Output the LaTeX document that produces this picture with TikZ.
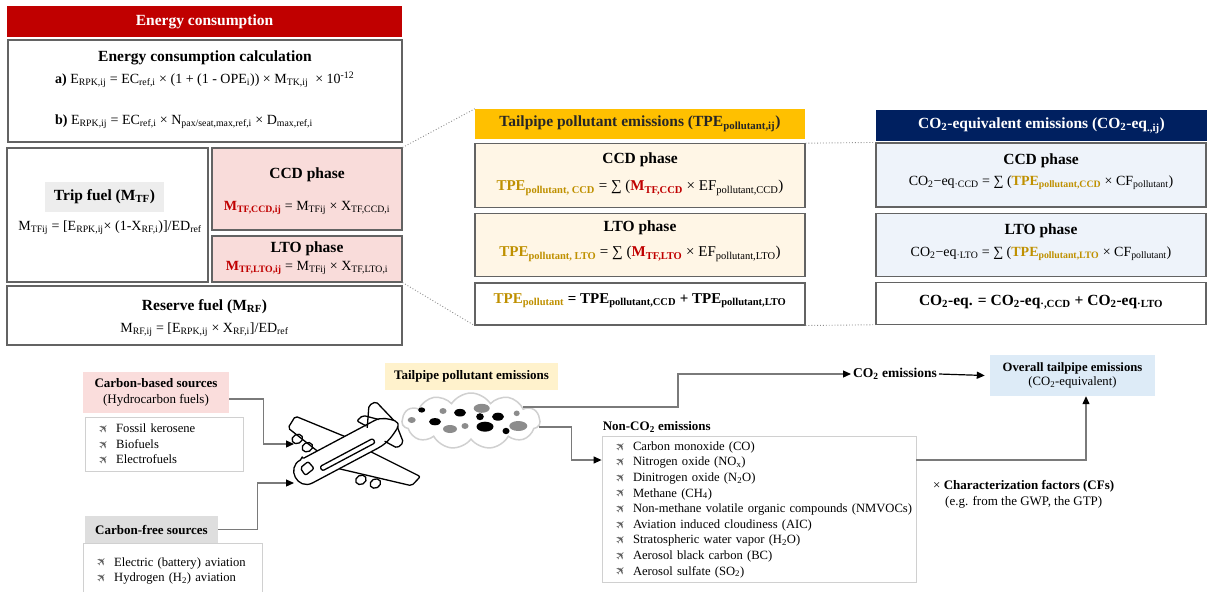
\documentclass[tikz,border=0pt]{standalone}
\usepackage{fontspec}
\setmainfont{Liberation Serif}
\newfontfamily\dejavu{DejaVu Sans}
\usepackage{graphicx}
\usetikzlibrary{positioning,arrows.meta,shapes.symbols}

\definecolor{ecred}{HTML}{C00000}
\definecolor{phasepink}{HTML}{F9DCDA}
\definecolor{tripgray}{HTML}{EDEDED}
\definecolor{tpeorange}{HTML}{FFC000}
\definecolor{tpecream}{HTML}{FFF6E6}
\definecolor{tpegold}{HTML}{BF9000}
\definecolor{ceqnavy}{HTML}{002060}
\definecolor{ceqblue}{HTML}{EEF3FA}
\definecolor{ovblue}{HTML}{DDEBF7}
\definecolor{tpelight}{HTML}{FFF2CC}
\definecolor{cbpink}{HTML}{FADDDC}
\definecolor{cfgray}{HTML}{DEDEDE}
\definecolor{linegray}{HTML}{636363}
\definecolor{listgray}{HTML}{D0D0D0}
\definecolor{flowgray}{HTML}{7A7A7A}
\definecolor{cloudgray}{HTML}{D0D0D0}
\definecolor{dotgray}{HTML}{8C8C8C}
\definecolor{bulgray}{HTML}{5E5E5E}

\newcommand\sbs[1]{\textsubscript{#1}}
\newcommand\gld[1]{\textcolor{tpegold}{\textbf{#1}}}
\newcommand\rdm[1]{\textcolor{ecred}{\textbf{#1}}}
\newcommand\bul{\makebox[31pt][l]{\hspace*{12pt}\textcolor{bulgray}{\dejavu\fontsize{12}{12}\selectfont\raisebox{-0.5pt}{\rotatebox[origin=c]{45}{✈}}}}}

\begin{document}
\begin{tikzpicture}[x=1pt, y=-1pt,
  box/.style={draw=linegray, line width=1.1pt, inner sep=0pt},
  hdr/.style={inner sep=0pt, font=\bfseries\fontsize{15.5}{18}\selectfont},
  ttl/.style={inner sep=0pt, font=\bfseries\fontsize{15.5}{18}\selectfont},
  fml/.style={inner sep=0pt, font=\fontsize{14}{17}\selectfont},
  lbl/.style={inner sep=0pt, font=\bfseries\fontsize{13}{16}\selectfont},
  lst/.style={draw=listgray, line width=0.8pt, align=left, inner sep=0pt,
              font=\fontsize{12.6}{15.6}\selectfont},
  flow/.style={draw=flowgray, line width=1.2pt, -{Triangle[length=8pt, width=7pt, color=black]}},
  dotlink/.style={draw=dotgray, dotted, line width=0.9pt},
  plane/.style={draw=black, fill=white, line width=1.3pt, line join=round, rounded corners=2pt}
]
\useasboundingbox (0,0) rectangle (1211,592);

\node[hdr, fill=ecred, text=white, minimum width=395pt, minimum height=31pt] (ecHead) at (204.5,21.5) {Energy consumption};
\node[box, minimum width=394pt, minimum height=102pt] (ecCalc) at (205,91) {};
\node[ttl] (ecTitle) at (205,58) {Energy consumption calculation};
\node[fml, anchor=west] (ecA) at (55,80) {\textbf{a)} E\sbs{RPK,ij} = EC\sbs{ref,i} × (1 + (1 - OPE\sbs{i})) × M\sbs{TK,ij} \ × 10\textsuperscript{-12}};
\node[fml, anchor=west] (ecB) at (55,122) {\textbf{b)} E\sbs{RPK,ij} = EC\sbs{ref,i} × N\sbs{pax/seat,max,ref,i} × D\sbs{max,ref,i}};

\node[box, minimum width=201pt, minimum height=134pt] (tripBox) at (107.5,215) {};
\node[ttl, fill=tripgray, minimum width=119pt, minimum height=30pt] (tripLbl) at (104.5,197) {Trip fuel (M\sbs{TF})};
\node[fml] (tripFml) at (110,228) {M\sbs{TFij} = [E\sbs{RPK,ij}× (1-X\sbs{RF,i})]/ED\sbs{ref}};

\node[box, fill=phasepink, minimum width=190pt, minimum height=82pt] (ccdBox) at (307,189) {};
\node[ttl] (ccdTitle) at (307,175) {CCD phase};
\node[fml] (ccdFml) at (307,208) {\rdm{M\sbs{TF,CCD,ij}} = M\sbs{TFij} × X\sbs{TF,CCD,i}};
\node[box, fill=phasepink, minimum width=190pt, minimum height=46pt] (ltoBox) at (307,259) {};
\node[ttl] (ltoTitle) at (307,249) {LTO phase};
\node[fml] (ltoFml) at (307,268) {\rdm{M\sbs{TF,LTO,ij}} = M\sbs{TFij} × X\sbs{TF,LTO,i}};

\node[box, minimum width=395pt, minimum height=59pt] (rfBox) at (204.5,315.5) {};
\node[ttl] (rfTitle) at (204.5,307) {Reserve fuel (M\sbs{RF})};
\node[fml] (rfFml) at (204.5,330) {M\sbs{RF,ij} = [E\sbs{RPK,ij} × X\sbs{RF,i}]/ED\sbs{ref}};

\node[hdr, fill=tpeorange, text=black!85, minimum width=330pt, minimum height=30pt] (tpeHead) at (640,124) {Tailpipe pollutant emissions (TPE\sbs{pollutant,ij})};
\node[box, fill=tpecream, minimum width=330pt, minimum height=64pt, below=4pt of tpeHead] (tpeCcd) {};
\node[ttl] (tpeCcdTitle) at (640,160) {CCD phase};
\node[fml, font=\fontsize{15}{18}\selectfont] (tpeCcdFml) at (640,188) {\gld{TPE\sbs{pollutant, CCD}} = ∑ (\rdm{M\sbs{TF,CCD}} × EF\sbs{pollutant,CCD})};
\node[box, fill=tpecream, minimum width=330pt, minimum height=63pt, below=5pt of tpeCcd] (tpeLto) {};
\node[ttl] (tpeLtoTitle) at (640,228) {LTO phase};
\node[fml, font=\fontsize{15}{18}\selectfont] (tpeLtoFml) at (640,254) {\gld{TPE\sbs{pollutant, LTO}} = ∑ (\rdm{M\sbs{TF,LTO}} × EF\sbs{pollutant,LTO})};
\node[box, minimum width=330pt, minimum height=42pt, below=5pt of tpeLto] (tpeSum) {};
\node[fml, font=\bfseries\fontsize{15}{18}\selectfont] (tpeSumFml) at (640,301) {\gld{TPE\sbs{pollutant}} = TPE\sbs{pollutant,CCD} + TPE\sbs{pollutant,LTO}};

\node[hdr, fill=ceqnavy, text=white, minimum width=331pt, minimum height=31pt] (ceqHead) at (1041.5,125.5) {CO\sbs{2}-equivalent emissions (CO\sbs{2}-eq\sbs{.,ij})};
\node[box, fill=ceqblue, minimum width=330pt, minimum height=64pt] (ceqCcd) at (1041,175) {};
\node[ttl] (ceqCcdTitle) at (1041,161) {CCD phase};
\node[fml] (ceqCcdFml) at (1041,183) {CO\sbs{2}−eq\sbs{·CCD} = ∑ (\gld{TPE\sbs{pollutant,CCD}} × CF\sbs{pollutant})};
\node[box, fill=ceqblue, minimum width=330pt, minimum height=63pt, below=5pt of ceqCcd] (ceqLto) {};
\node[ttl] (ceqLtoTitle) at (1041,231) {LTO phase};
\node[fml] (ceqLtoFml) at (1041,254) {CO\sbs{2}−eq\sbs{·LTO} = ∑ (\gld{TPE\sbs{pollutant,LTO}} × CF\sbs{pollutant})};
\node[box, minimum width=330pt, minimum height=42pt, below=5pt of ceqLto] (ceqSum) {};
\node[fml, font=\bfseries\fontsize{15.5}{18}\selectfont] (ceqSumFml) at (1041,302) {CO\sbs{2}-eq. = CO\sbs{2}-eq\sbs{·,CCD} + CO\sbs{2}-eq\sbs{·LTO}};

\draw[dotlink] (ccdBox.north east) -- (tpeHead.north west);
\draw[dotlink] (ltoBox.south east) -- (tpeSum.south west);
\draw[dotlink] (tpeCcd.north east) -- (ceqCcd.north west);
\draw[dotlink] (tpeSum.south east) -- (ceqSum.south west);

\node[fill=cbpink, align=center, inner sep=0pt, minimum width=146pt, minimum height=41pt,
      font=\fontsize{13}{16}\selectfont] (cbBox) at (156,392.5) {\textbf{Carbon-based sources}\\(Hydrocarbon fuels)};
\node[lst, minimum width=158pt, minimum height=54pt, text width=158pt, below right=4pt and 2pt of cbBox.south west] (cbList)
  {\bul Fossil kerosene\\ \bul Biofuels\\ \bul Electrofuels};
\node[lbl, fill=cfgray, minimum width=133pt, minimum height=27pt] (cfBox) at (151.5,529.5) {Carbon-free sources};
\node[lst, minimum width=179pt, minimum height=53pt, text width=179pt, below right=0pt and -2pt of cfBox.south west] (cfList)
  {\bul Electric (battery) aviation\\ \bul Hydrogen (H\sbs{2}) aviation};

\begin{scope}[shift={(296,477)}, rotate=28, plane]
  \draw (19,-33) ellipse[x radius=5.5, y radius=4.5];
  \draw (24,-21) ellipse[x radius=5.5, y radius=4.5];
  \draw (31,-13) -- (16,-47) -- (28,-54) -- (62,-13);
  \draw (86,-12) -- (80,-21) -- (88,-23) -- (100,-12);
  \draw (86,-10) -- (98,-29) -- (106,-29) -- (113,-4);
  \draw (14,-13) -- (94,-13) .. controls (104,-13) and (110,-7) .. (115,-2) -- (115,3)
        .. controls (106,8) and (98,13) .. (84,13) -- (14,13) .. controls (-5,13) and (-5,-13) .. (14,-13) -- cycle;
  \draw (8,-6) -- (18,-8) -- (20,1) -- (9,3) -- cycle;
  \draw (26,2) rectangle (86,7);
  \draw (56,33) ellipse[x radius=5.5, y radius=4.5];
  \draw (67,43) ellipse[x radius=5.5, y radius=4.5];
  \draw (42,13) -- (98,62) -- (110,58) -- (78,13);
  \draw (95,10) -- (103,22) -- (111,20) -- (113,3);
\end{scope}
\coordinate (planeA) at (294,444);
\coordinate (planeB) at (294,483);

\node[lbl, fill=tpelight, minimum width=173pt, minimum height=27pt] (tpeLbl) at (471.5,376.5) {Tailpipe pollutant emissions};
\node[cloud, cloud puffs=11, cloud puff arc=115, aspect=2.4, draw=cloudgray, line width=1.5pt,
      minimum width=138pt, minimum height=56pt, inner sep=0pt] (cloud) at (471,421) {};
\foreach \x/\y/\a/\b in {421.7/410/3.5/2.6, 435/421.7/6/3.6, 460/412.7/6/3.8, 480/416.7/3.8/3.5,
                          498/416.7/6/4, 485/426.7/8.5/5, 506/431/3.5/3.2}
  \fill[black] (\x,\y) ellipse[x radius=\a, y radius=\b];
\foreach \x/\y/\a/\b in {411.7/420/4/3, 443/411/3.5/3, 450/429/7/4, 465/426/3.5/3,
                          481.7/408.3/8/4.5, 516.7/413.3/3/2.8, 518.3/426/9/5}
  \fill[dotgray] (\x,\y) ellipse[x radius=\a, y radius=\b];

\node[lst, minimum width=314pt, minimum height=146pt, text width=314pt] (ncList) at (759,509)
  {\bul Carbon monoxide (CO)\\
   \bul Nitrogen oxide (NO\sbs{x})\\
   \bul Dinitrogen oxide (N\sbs{2}O)\\
   \bul Methane (CH\sbs{4})\\
   \bul Non-methane volatile organic compounds (NMVOCs)\\
   \bul Aviation induced cloudiness (AIC)\\
   \bul Stratospheric water vapor (H\sbs{2}O)\\
   \bul Aerosol black carbon (BC)\\
   \bul Aerosol sulfate (SO\sbs{2})};
\node[lbl, above right=3pt and 1pt of ncList.north west] (ncTitle) {Non-CO\sbs{2} emissions};

\node[lbl, inner sep=2pt, font=\bfseries\fontsize{13.5}{16}\selectfont] (co2) at (895,374) {CO\sbs{2} emissions};
\node[fill=ovblue, align=center, inner sep=0pt, minimum width=165pt, minimum height=41pt,
      font=\fontsize{12.7}{14}\selectfont] (overall) at (1072.5,375.5) {\textbf{Overall tailpipe emissions}\\(CO\sbs{2}-equivalent)};
\node[align=left, anchor=west, inner sep=0pt, font=\fontsize{13}{16}\selectfont] (cfTxt) at (933,494)
  {× \textbf{Characterization factors (CFs)}\\\hspace*{12pt}(e.g. from the GWP, the GTP)};

\draw[flow] ([yshift=-6.5pt]cbBox.east) -- ++(34,0) |- (planeA);
\draw[flow] (cfBox.east) -- ++(39,0) |- (planeB);
\draw[flow] (cloud.15) -- ++(155,0) |- (co2.west);
\draw[flow] (cloud.-5) -- ++(33,0) |- ([yshift=49pt]ncList.west);
\draw[flow] ([yshift=49pt]ncList.east) -| ([xshift=13.5pt]overall.south);
\draw[flow, draw=black] (co2.east) -- ([xshift=-5pt]overall.west);
\end{tikzpicture}
\end{document}
